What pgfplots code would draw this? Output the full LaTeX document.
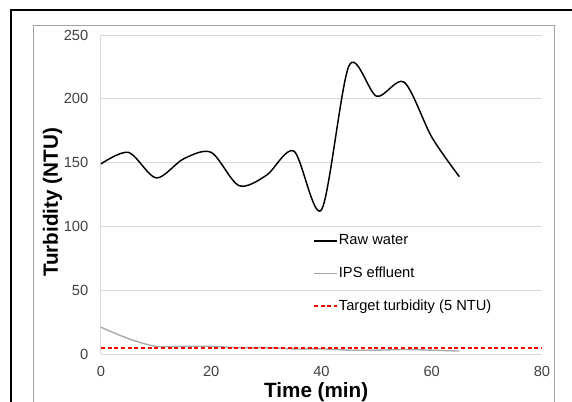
\documentclass[border=0pt]{standalone}
\usepackage{fontspec}
\setmainfont{Liberation Sans}
\usepackage{pgfplots}
\pgfplotsset{compat=1.18}
\definecolor{TickGray}{HTML}{404040}
\definecolor{GridGray}{HTML}{D9D9D9}
\definecolor{IPSGray}{HTML}{A6A6A6}
\definecolor{FrameGray}{HTML}{A0A0A0}
\definecolor{TargetRed}{RGB}{255,0,0}

\begin{document}
\begin{tikzpicture}
% page = 572 x 401 px, 1 px = 0.75pt
\useasboundingbox (0,0) rectangle (429pt,300.75pt);
\draw[line width=1.5pt, black] (8.25pt,-5pt) -- (8.25pt,293.25pt) -- (440pt,293.25pt);
\draw[line width=0.75pt, FrameGray] (24.75pt,-5pt) -- (24.75pt,281.25pt) -- (415.5pt,281.25pt) -- (415.5pt,-5pt);
\begin{axis}[
    at={(75.75pt,35.25pt)}, anchor=south west,
    scale only axis, width=330.75pt, height=239.25pt,
    xmin=0, xmax=80, ymin=0, ymax=250,
    xtick={0,20,...,80}, ytick={0,50,...,250},
    axis lines*=left,
    axis line style={GridGray, line width=0.75pt, -},
    major tick length=0pt,
    ymajorgrids, grid style={GridGray, line width=0.75pt},
    /pgf/number format/assume math mode=true,
    tick label style={font=\fontsize{11}{13}\selectfont, text=TickGray},
    yticklabel style={xshift=-6pt},
    xticklabel style={yshift=-6pt},
    xlabel={\textbf{Time (min)}},
    ylabel={\textbf{Turbidity (NTU)}},
    label style={font=\fontsize{15.5}{18}\selectfont},
    xlabel style={at={(axis description cs:0.488,-0.12)}, anchor=center},
    ylabel style={at={(axis description cs:-0.11,0.475)}, anchor=center},
    legend style={draw=none, fill=none, at={(axis description cs:0.48,0.383)}, anchor=north west,
        font=\fontsize{11}{13}\selectfont, row sep=11pt, inner sep=0pt,
        nodes={inner xsep=1pt}},
    legend cell align=left,
    clip=false,
]
\addplot[black, line width=1.1pt, smooth] coordinates {
    (0,149) (5,158) (10,138) (15,153) (20,158) (25,132) (30,140) (35,159)
    (40,113) (45,226) (50,202) (55,213) (60,170) (65,139)};
\addplot[IPSGray, line width=1pt, smooth] coordinates {
    (0,21) (5,12) (10,6) (15,6) (20,6) (25,5) (30,5) (35,4)
    (40,4) (45,3) (50,3) (55,3.5) (60,3) (65,2.3)};
\addplot[TargetRed, line width=1.4pt, densely dashed] coordinates {(0,5) (80,5)};
\legend{Raw water, IPS effluent, Target turbidity (5 NTU)}
\end{axis}
\end{tikzpicture}
\end{document}
